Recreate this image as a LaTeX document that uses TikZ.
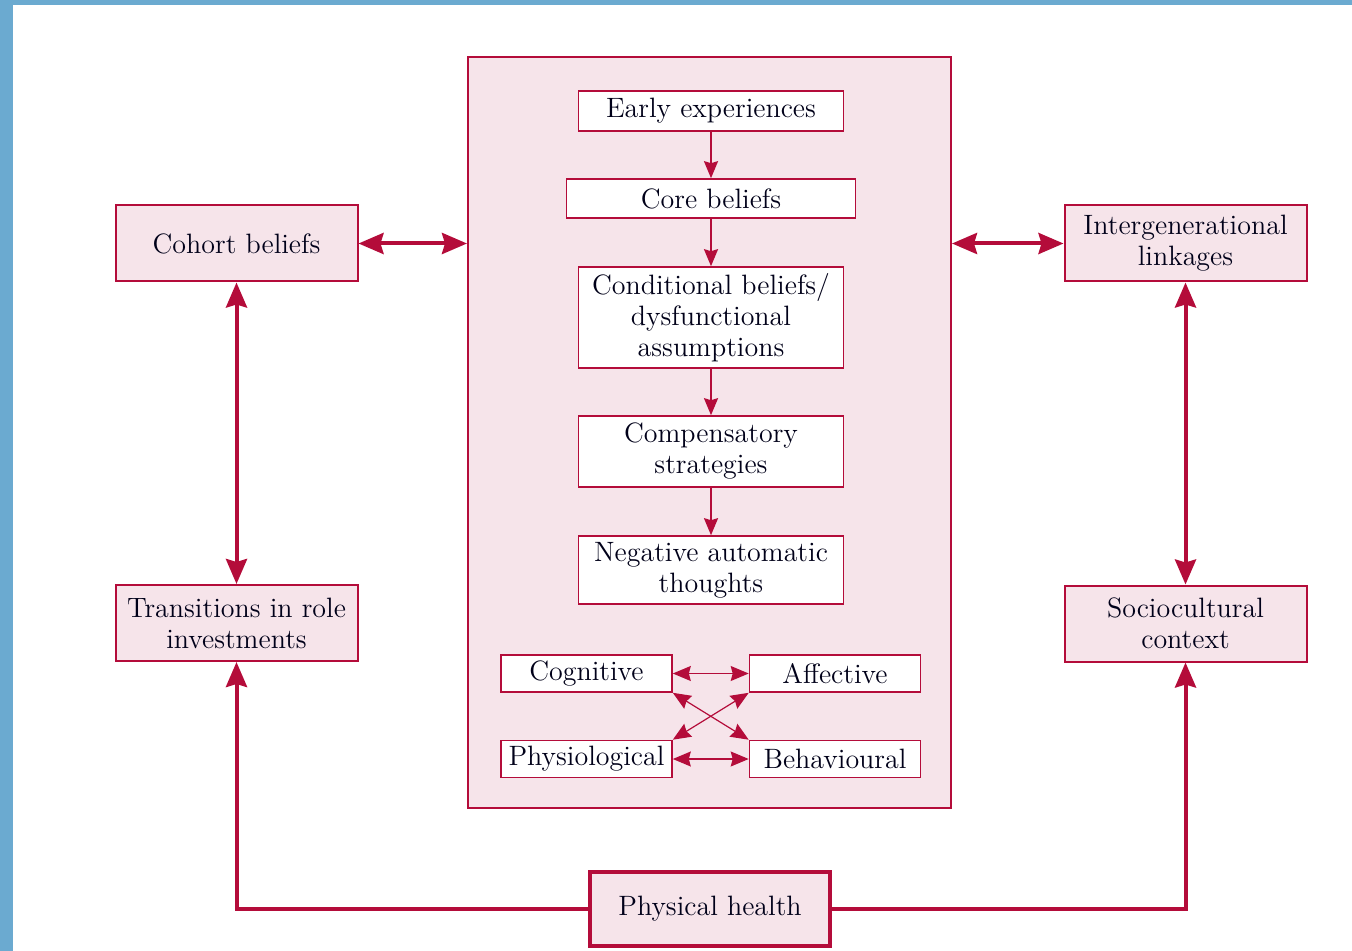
\documentclass[tikz,border=0pt]{standalone}
\usetikzlibrary{arrows.meta,positioning}
\definecolor{crimson}{RGB}{180,12,58}
\definecolor{blush}{RGB}{246,228,234}
\definecolor{frameblue}{RGB}{107,170,208}

\begin{document}
\begin{tikzpicture}[x=0.5pt, y=-0.5pt,
    every node/.style={font=\fontsize{14}{15.5}\selectfont, align=center, inner sep=0pt, text=black!90!blue},
    sidebox/.style={draw=crimson, line width=1pt, fill=blush, minimum width=121pt, minimum height=38pt},
    stagebox/.style={draw=crimson, line width=0.8pt, fill=white, minimum width=132.5pt},
    minibox/.style={draw=crimson, line width=0.8pt, fill=white, minimum width=85.5pt, minimum height=18.5pt},
    thick link/.style={crimson, line width=2pt},
    big tip/.style={{Stealth[length=12.5pt, width=10.5pt, inset=1.5pt]}-{Stealth[length=12.5pt, width=10.5pt, inset=1.5pt]}},
    step link/.style={-{Stealth[length=8.5pt, width=7pt, inset=1pt]}, crimson, line width=1pt},
    mini link/.style={{Stealth[length=9pt, width=7.5pt, inset=1pt]}-{Stealth[length=9pt, width=7.5pt, inset=1pt]}, crimson, line width=0.6pt}]
    \useasboundingbox (0,0) rectangle (1352,951);
    \fill[frameblue] (0,0) rectangle (13,951);
    \fill[frameblue] (0,0) rectangle (1352,5);

    % central panel
    \node[draw=crimson, line width=1pt, fill=blush, minimum width=241.5pt, minimum height=375.5pt] (panel) at (709.5,432.5) {};
    \node[stagebox, minimum height=20pt] (early) at (711,111) {Early experiences};
    \node[stagebox, minimum width=144.5pt, minimum height=19.5pt] (core) at (711,198.5) {Core beliefs};
    \node[stagebox, minimum height=50.5pt] (cond) at (711,317.5) {Conditional beliefs/\\dysfunctional\\assumptions};
    \node[stagebox, minimum height=35.5pt] (comp) at (711,451.5) {Compensatory\\strategies};
    \node[stagebox, minimum height=34pt] (neg) at (711,570) {Negative automatic\\thoughts};
    \draw[step link] (early) -- (core);
    \draw[step link] (core) -- (cond);
    \draw[step link] (cond) -- (comp);
    \draw[step link] (comp) -- (neg);

    \node[minibox] (cog) at (586.5,673.5) {Cognitive};
    \node[minibox] (aff) at (835,673.5) {Affective};
    \node[minibox] (phys) at (586.5,759) {Physiological};
    \node[minibox] (beh) at (835,759) {Behavioural};
    \draw[mini link] (cog) -- (aff);
    \draw[mini link] (phys) -- (beh);
    \draw[mini link] (cog.south east) -- (beh.north west);
    \draw[mini link] (aff.south west) -- (phys.north east);

    % outer factors
    \node[sidebox] (cohort) at (236.5,243.5) {Cohort beliefs};
    \node[sidebox] (trans) at (236.5,623) {Transitions in role\\investments};
    \node[sidebox] (inter) at (1185.5,243.5) {Intergenerational\\linkages};
    \node[sidebox] (socio) at (1185.5,623.5) {Sociocultural\\context};
    \node[sidebox, line width=2pt, minimum width=120pt, minimum height=37pt] (health) at (710,909) {Physical health};

    \draw[thick link, big tip] (cohort.east) -- (cohort.east -| panel.west);
    \draw[thick link, big tip] (panel.east |- inter.west) -- (inter.west);
    \draw[thick link, big tip] (cohort) -- (trans);
    \draw[thick link, big tip] (inter) -- (socio);
    \draw[thick link, -{Stealth[length=12.5pt, width=10.5pt, inset=1.5pt]}] (health.west) -| (trans.south);
    \draw[thick link, -{Stealth[length=12.5pt, width=10.5pt, inset=1.5pt]}] (health.east) -| (socio.south);
\end{tikzpicture}
\end{document}
